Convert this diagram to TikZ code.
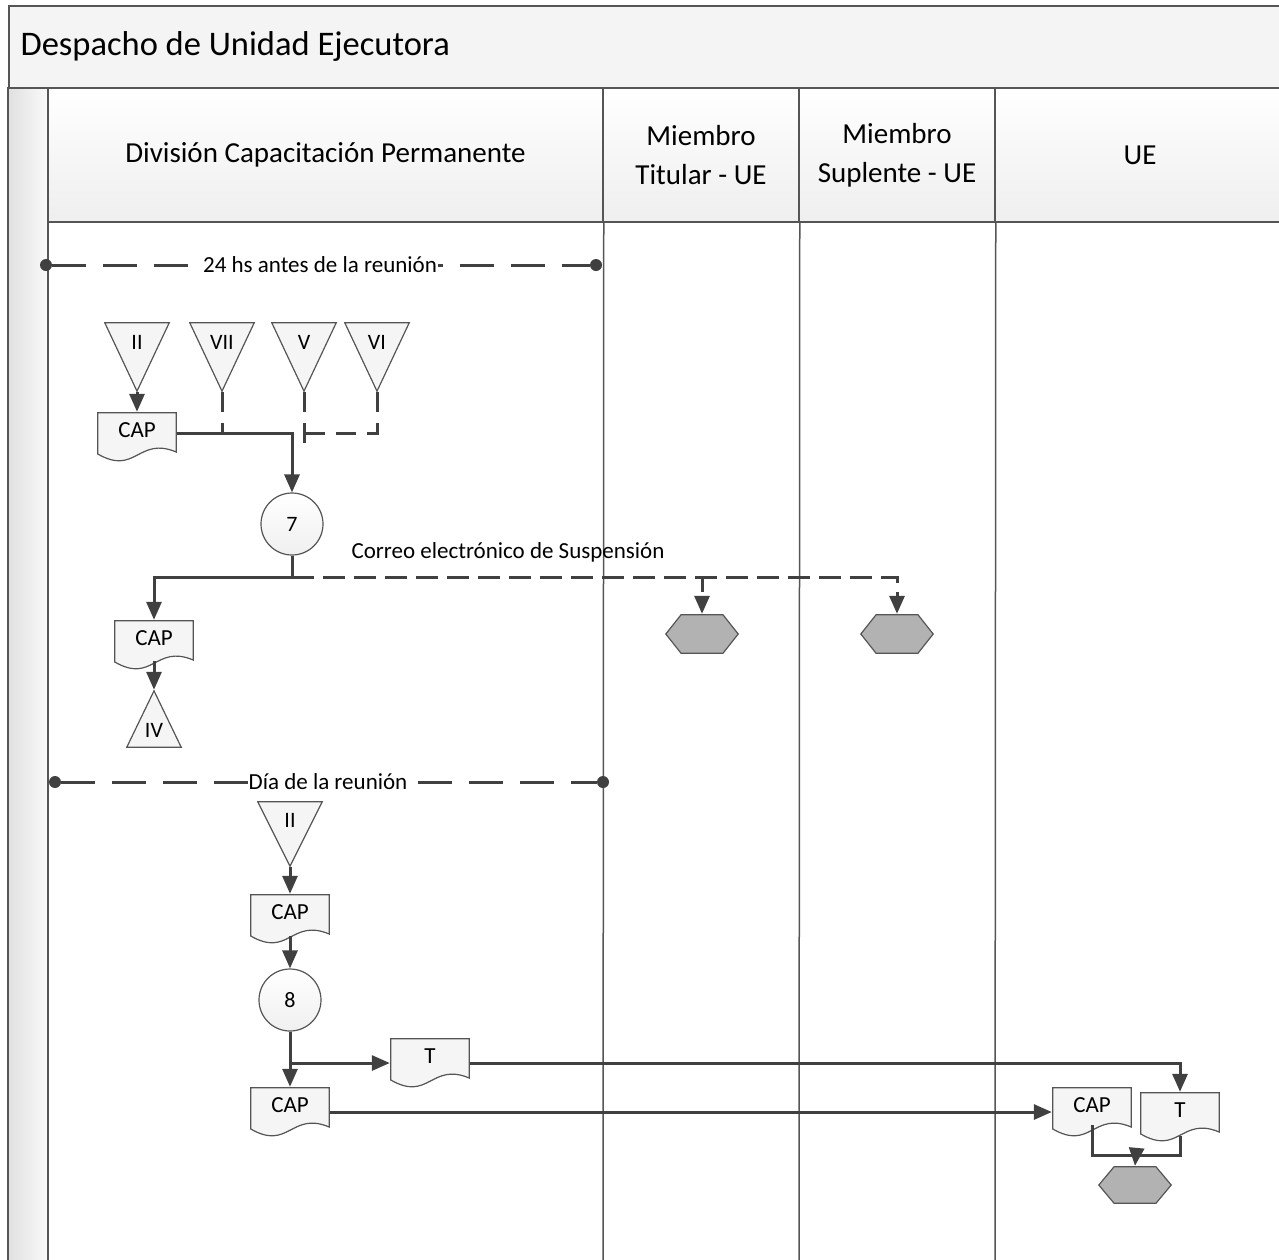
\documentclass[tikz,border=0pt]{standalone}
\usepackage{fontspec}
\setmainfont{Carlito}
\usetikzlibrary{arrows.meta, positioning, calc}
\definecolor{linedark}{HTML}{404040}
\definecolor{framegray}{HTML}{555555}
\definecolor{hexgray}{HTML}{B2B2B2}
\definecolor{shapefill}{HTML}{F5F5F5}

\begin{document}
\begin{tikzpicture}[
    x=1pt, y=1pt,
    conn/.style={draw=linedark, line width=3pt, -{Triangle[length=18pt,width=15pt]}},
    cline/.style={draw=linedark, line width=3pt},
    dconn/.style={conn, dash pattern=on 22pt off 9pt},
    dline/.style={cline, dash pattern=on 20pt off 11pt},
    sepline/.style={draw=linedark, line width=3pt, dash pattern=on 34pt off 17pt},
    sepdot/.style={circle, fill=linedark, inner sep=0pt, minimum size=12pt},
    seplabel/.style={fill=white, inner sep=1pt, font=\fontsize{23}{26}\selectfont},
    laneline/.style={draw=framegray, line width=1.5pt},
    head/.style={rectangle, draw=framegray, line width=1.5pt, top color=white, bottom color=gray!13, align=center, font=\fontsize{29}{39}\selectfont, minimum height=134pt},
    doc/.style={rectangle, minimum width=80pt, minimum height=50pt, inner sep=0pt, text height=15pt, text depth=14pt, font=\fontsize{23}{26}\selectfont,
        path picture={\draw[draw=framegray, line width=1.2pt, fill=shapefill]
            ([shift={(0.8,-0.8)}]path picture bounding box.north west)
            -- ([shift={(-0.8,-0.8)}]path picture bounding box.north east)
            -- ([shift={(-0.8,10)}]path picture bounding box.south east)
            .. controls +(-38,16) and +(38,-22) .. ([shift={(0.8,8)}]path picture bounding box.south west)
            -- cycle;}},
    tri/.style={rectangle, minimum width=66pt, minimum height=70pt, inner sep=0pt, text height=14pt, text depth=30pt, font=\fontsize{22}{26}\selectfont,
        path picture={\draw[draw=framegray, line width=1.2pt, fill=shapefill]
            ([shift={(0.8,-0.8)}]path picture bounding box.north west)
            -- ([shift={(-0.8,-0.8)}]path picture bounding box.north east)
            -- ([yshift=0.8pt]path picture bounding box.south) -- cycle;}},
    triup/.style={rectangle, minimum width=56pt, minimum height=58pt, inner sep=0pt, text height=36pt, text depth=0pt, font=\fontsize{22}{26}\selectfont,
        path picture={\draw[draw=framegray, line width=1.2pt, fill=shapefill]
            ([shift={(0.8,0.8)}]path picture bounding box.south west)
            -- ([shift={(-0.8,0.8)}]path picture bounding box.south east)
            -- ([yshift=-0.8pt]path picture bounding box.north) -- cycle;}},
    hexa/.style={rectangle, minimum width=74pt, minimum height=40pt, inner sep=0pt,
        path picture={\draw[draw=framegray, line width=1.2pt, fill=hexgray]
            ([xshift=0.8pt]path picture bounding box.west)
            -- ([shift={(16,-0.8)}]path picture bounding box.north west)
            -- ([shift={(-16,-0.8)}]path picture bounding box.north east)
            -- ([xshift=-0.8pt]path picture bounding box.east)
            -- ([shift={(-16,0.8)}]path picture bounding box.south east)
            -- ([shift={(16,0.8)}]path picture bounding box.south west) -- cycle;}},
    stepnum/.style={circle, draw=framegray, line width=1.2pt, top color=white, bottom color=gray!12, minimum size=62pt, inner sep=0pt, font=\fontsize{22}{26}\selectfont}
]
\clip (0,0) rectangle (1279,-1259);

% ===== POOL FRAME =====
\node[rectangle, draw=framegray, line width=1.5pt, fill=gray!9, minimum width=1300pt, minimum height=83pt, anchor=north west] (pool) at (8,-5) {};
\node[anchor=west, font=\fontsize{34.5}{40}\selectfont] (title) at (17,-46) {Despacho de Unidad Ejecutora};
\draw[laneline, left color=gray!24, right color=gray!4] (8,-88) rectangle (48,-1270);

% ===== LANE HEADERS =====
\node[head, minimum width=555pt] (hdcp) at (325.5,-155) {División Capacitación Permanente};
\node[head, minimum width=196pt] (hdtit) at (701,-155) {Miembro\\Titular - UE};
\node[head, minimum width=196pt] (hdsup) at (897,-155) {Miembro\\Suplente - UE};
\node[head, minimum width=290pt] (hdue) at (1140,-155) {UE};

\draw[laneline] (hdcp.south east) -- (603,-1270);
\draw[laneline] (hdtit.south east) -- (799,-1270);
\draw[laneline] (hdsup.south east) -- (995,-1270);

% ===== 24 HS ANTES DE LA REUNION =====
\node[sepdot] (sa1) at (46,-265) {};
\node[sepdot] (sa2) at (596,-265) {};
\draw[sepline] (sa1) -- (sa2);
\node[seplabel] (sa) at (320,-265) {24 hs antes de la reunión};

\node[tri] (tII) at (137,-357) {II};
\node[tri] (tVII) at (222,-357) {VII};
\node[tri] (tV) at (304,-357) {V};
\node[tri] (tVI) at (377,-357) {VI};
\node[doc] (cap1) at (137,-437) {CAP};
\coordinate (j1) at (292,-433);

\draw[dline] (tVII.south) |- (j1);
\draw[dline] (tV.south) -- ++(0,-53);
\draw[dline] (tVI.south) |- (j1);
\draw[conn] (tII.south) -- (cap1.north);

\node[stepnum] (n7) at (292,-524) {7};
\draw[conn] (cap1.east |- j1) -- (j1) -- (n7.north);

\node[doc] (cap2) at (154,-645) {CAP};
\node[triup] (tIV) at (154,-719) {IV};
\node[hexa] (hexa) at (702,-634) {};
\node[hexa] (hexb) at (897,-634) {};
\coordinate (j7) at (292,-577);

\draw[conn] (n7.south) -- (j7) -| (cap2.north);
\draw[dconn] (j7) -| (hexb.north);
\draw[dconn] (j7) -| (hexa.north);
\node[font=\fontsize{23}{26}\selectfont] (mail) at (508,-552) {Correo electrónico de Suspensión};
\draw[conn] ([yshift=9pt]cap2.south) -- (tIV.north);

% ===== DIA DE LA REUNION =====
\node[sepdot] (sb1) at (55,-782) {};
\node[sepdot] (sb2) at (603,-782) {};
\draw[sepline] (sb1) -- (sb2);
\node[seplabel] (sb) at (328,-782) {Día de la reunión};

\node[tri, minimum height=66pt, text depth=28pt] (tII2) at (290,-834) {II};
\node[doc] (cap3) at (290,-919) {CAP};
\node[stepnum] (n8) at (290,-1000) {8};
\node[doc] (t1) at (430,-1063) {T};
\node[doc] (cap4) at (290,-1112) {CAP};
\node[doc] (cap5) at (1092,-1112) {CAP};
\node[doc] (t2) at (1180,-1117) {T};
\node[hexa, minimum height=38pt] (hexc) at (1135,-1185) {};
\coordinate (j8) at (290,-1063);
\coordinate (j9) at (1136,-1155);

\draw[conn] (tII2.south) -- (cap3.north);
\draw[conn] ([yshift=8pt]cap3.south) -- (n8.north);
\draw[conn] (n8.south) -- (cap4.north);
\draw[conn] (j8) -- (t1.west);
\draw[conn] (t1.east) -| (t2.north);
\draw[conn] (cap4.east) -- (cap5.west);
\draw[cline] ([yshift=12pt]cap5.south) |- (j9) -| ([yshift=6pt]t2.south);
\draw[conn] (j9) -- (hexc.north);

\end{tikzpicture}
\end{document}
